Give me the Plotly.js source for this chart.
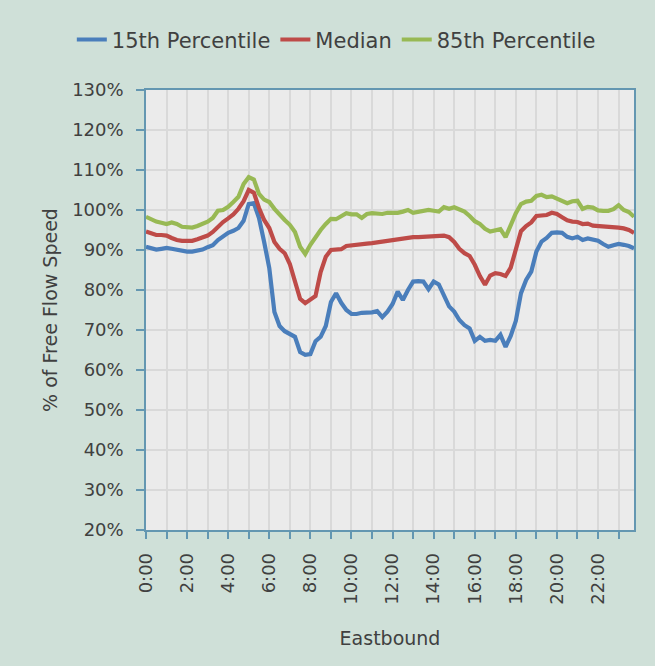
<!DOCTYPE html>
<html>
<head>
<meta charset="utf-8">
<script src="https://cdn.plot.ly/plotly-3.0.1.min.js"></script>
<style>
  html, body { margin: 0; padding: 0; background: #cfe0d8; }
  #chart { width: 655px; height: 666px; }
</style>
</head>
<body>
<div id="chart"></div>
<script>
// 15-minute time slots
var times = [
  "00:00","00:15","00:30","00:45","01:00","01:15","01:30","01:45",
  "02:00","02:15","02:30","02:45","03:00","03:15","03:30","03:45",
  "04:00","04:15","04:30","04:45","05:00","05:15","05:30","05:45",
  "06:00","06:15","06:30","06:45","07:00","07:15","07:30","07:45",
  "08:00","08:15","08:30","08:45","09:00","09:15","09:30","09:45",
  "10:00","10:15","10:30","10:45","11:00","11:15","11:30","11:45",
  "12:00","12:15","12:30","12:45","13:00","13:15","13:30","13:45",
  "14:00","14:15","14:30","14:45","15:00","15:15","15:30","15:45",
  "16:00","16:15","16:30","16:45","17:00","17:15","17:30","17:45",
  "18:00","18:15","18:30","18:45","19:00","19:15","19:30","19:45",
  "20:00","20:15","20:30","20:45","21:00","21:15","21:30","21:45",
  "22:00","22:15","22:30","22:45","23:00","23:15","23:30","23:45"
];

// % of free flow speed
var p15 = [
  90.8,90.4,90.1,90.3, 90.5,90.3,90.0,89.7, 89.6,89.6,89.8,90.1, 90.7,91.2,92.5,93.4,
  94.3,94.8,95.5,97.3, 101.5,101.7,98.0,92.0, 85.5,74.5,71.0,69.7, 69.0,68.3,64.5,63.8,
  64.0,67.2,68.3,71.0, 77.0,79.2,76.8,75.0, 74.0,74.0,74.3,74.3, 74.4,74.7,73.2,74.6,
  76.5,79.6,77.5,80.0, 82.1,82.2,82.1,80.2, 82.1,81.4,78.5,75.9, 74.6,72.5,71.2,70.4,
  67.3,68.3,67.3,67.5, 67.3,68.8,65.8,68.5, 72.3,79.2,82.5,84.6, 89.6,92.1,93.0,94.3,
  94.4,94.3,93.3,92.9, 93.3,92.5,92.9,92.7, 92.3,91.5,90.8,91.2, 91.5,91.3,91.0,90.4
];
var median = [
  94.6,94.2,93.75,93.75, 93.6,93.0,92.5,92.3, 92.3,92.3,92.7,93.2, 93.6,94.5,95.8,97.0,
  97.9,98.9,100.3,102.2, 105.0,104.3,100.5,97.5, 95.5,92.0,90.3,89.2, 86.5,82.5,77.8,76.7,
  77.5,78.5,84.5,88.3, 90.0,90.2,90.2,91.0, 91.2,91.25,91.4,91.6, 91.7,91.9,92.1,92.3,
  92.4,92.6,92.9,93.0, 93.2,93.2,93.3,93.4, 93.6,93.6,93.6,93.2, 92.0,90.3,89.2,88.5,
  86.3,83.5,81.3,83.6, 84.2,84.0,83.5,85.6, 90.0,94.7,96.0,96.9, 98.5,98.5,98.75,99.3,
  99.0,98.2,97.4,97.1, 97.0,96.5,96.6,96.1, 96.0,96.0,96.0,95.8, 95.6,95.4,95.0,94.3
];
var p85 = [
  98.3,97.6,97.1,96.8, 96.5,96.9,96.5,95.8, 95.6,95.6,96.0,96.5, 97.1,98.0,99.8,100.0,
  100.8,102.0,103.3,106.5, 108.2,107.6,104.0,102.6, 102.0,100.3,98.8,97.5, 96.3,94.5,90.8,89.0,
  91.3,93.2,95.0,96.5, 97.8,97.7,98.5,99.2, 98.9,98.9,98.0,99.0, 99.2,99.0,99.0,99.3,
  99.3,99.3,99.6,100.0, 99.3,99.5,99.6,100.0, 99.8,99.6,100.7,100.3, 100.7,100.0,99.6,98.5,
  97.2,96.5,95.3,94.6, 95.0,95.2,93.2,96.3, 99.2,101.5,102.1,102.3, 103.5,103.8,103.2,103.4,
  102.9,102.3,101.7,102.2, 102.3,100.3,100.8,100.6, 99.9,99.8,99.8,100.2, 101.2,100.0,99.5,98.3
];

var seriesNames = ["15th Percentile", "Median", "85th Percentile"];
var seriesColors = ["#4a7ebb", "#be4b48", "#98b954"];
var seriesValues = [p15, median, p85];

var day = "2000-01-01 ";
var xDates = times.map(function (t) { return day + t; });

var traces = seriesValues.map(function (vals, i) {
  return {
    type: "scatter",
    mode: "lines",
    name: seriesNames[i],
    x: xDates,
    y: vals,
    line: { color: seriesColors[i], width: 4.2, shape: "linear" },
    hoverinfo: "x+y+name"
  };
});

var axisColor = "#6497b1";
var gridColor = "#d9d9d9";
var textColor = "#404040";
var fontFamily = "DejaVu Sans, Noto Sans, sans-serif";

var layout = {
  width: 655,
  height: 666,
  paper_bgcolor: "#cfe0d8",
  plot_bgcolor: "#ebebeb",
  font: { family: fontFamily, size: 18, color: textColor },
  margin: { l: 146, r: 21, t: 90, b: 136 },
  showlegend: true,
  legend: {
    orientation: "h",
    x: -0.152, xanchor: "left",
    y: 1.114, yanchor: "middle",
    font: { size: 21, color: textColor },
    bgcolor: "rgba(0,0,0,0)",
    traceorder: "normal",
    itemwidth: 30
  },
  xaxis: {
    type: "date",
    range: [day + "00:00", day + "23:45"],
    tick0: day + "00:00",
    dtick: 7200000,
    tickformat: "%-H:%M",
    tickangle: -90,
    ticks: "outside",
    ticklen: 7,
    tickwidth: 1.5,
    tickcolor: axisColor,
    ticklabelstandoff: 7,
    showline: true,
    linecolor: axisColor,
    linewidth: 1.5,
    mirror: true,
    showgrid: true,
    gridcolor: gridColor,
    gridwidth: 1.5,
    zeroline: false,
    minor: {
      dtick: 3600000,
      ticks: "outside",
      ticklen: 7,
      tickwidth: 1.5,
      tickcolor: axisColor,
      showgrid: true,
      gridcolor: gridColor,
      gridwidth: 1.5
    },
    tickfont: { size: 18, color: textColor },
    title: { text: "Eastbound", font: { size: 19, color: textColor }, standoff: 28 },
    fixedrange: true
  },
  yaxis: {
    range: [20, 130],
    tick0: 20,
    dtick: 10,
    ticksuffix: "%",
    ticks: "outside",
    ticklen: 8,
    tickwidth: 1.5,
    tickcolor: axisColor,
    ticklabelstandoff: 9,
    showline: true,
    linecolor: axisColor,
    linewidth: 1.5,
    mirror: true,
    showgrid: true,
    gridcolor: gridColor,
    gridwidth: 1.5,
    zeroline: false,
    tickfont: { size: 18, color: textColor },
    title: { text: "% of Free Flow Speed", font: { size: 19, color: textColor }, standoff: 10 },
    fixedrange: true
  }
};

Plotly.newPlot("chart", traces, layout, { displayModeBar: false, staticPlot: false });
</script>
</body>
</html>
